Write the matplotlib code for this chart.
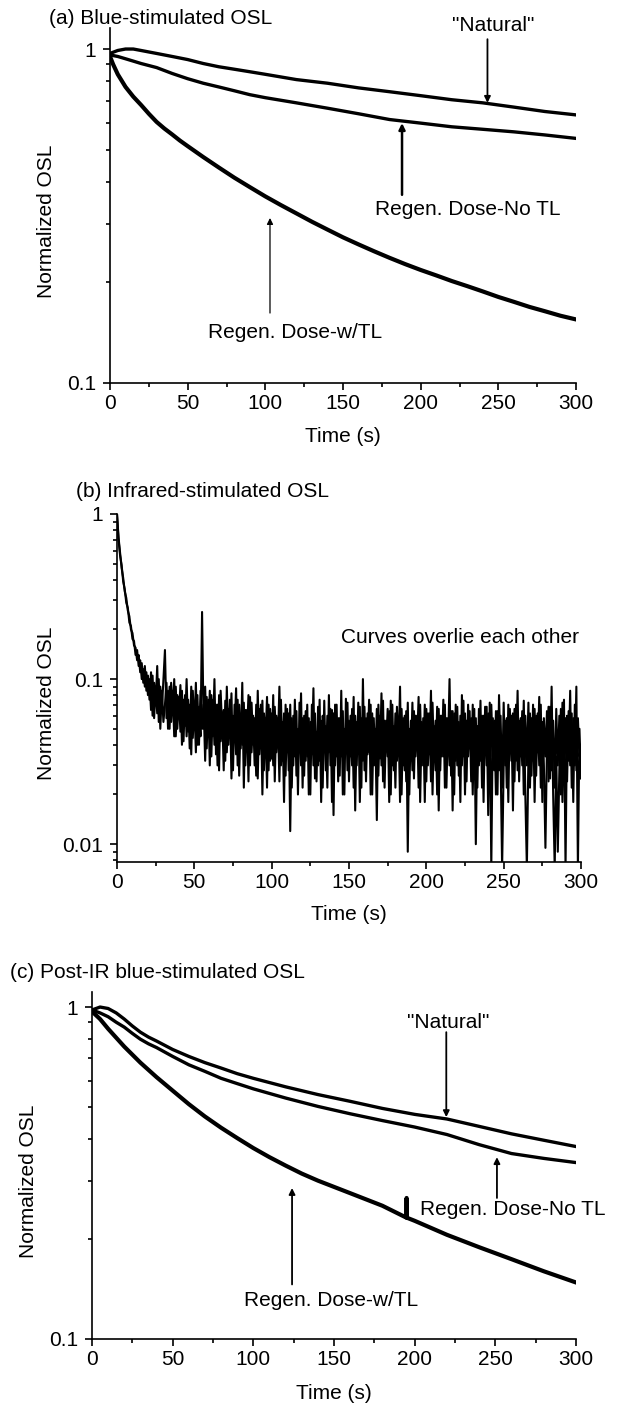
import numpy as np
import matplotlib
matplotlib.use('Agg')
import matplotlib.pyplot as plt
from matplotlib.ticker import MultipleLocator, LogLocator, NullFormatter

plt.rcParams['font.family'] = ['Liberation Sans', 'DejaVu Sans']
plt.rcParams['font.size'] = 15

# ---- data ----
# (a) blue-stimulated OSL
t_a = [0, 5, 10, 15, 20, 30, 40, 50, 60, 70, 80, 90, 100, 120, 140, 160, 180, 200, 220, 240, 260, 280, 300]
natural_a = [0.97, 0.99, 1.0, 1.0, 0.99, 0.97, 0.95, 0.93, 0.905, 0.885, 0.87, 0.855, 0.84, 0.81, 0.79,
             0.765, 0.745, 0.725, 0.705, 0.69, 0.67, 0.65, 0.635]
notl_a = [0.96, 0.95, 0.935, 0.92, 0.905, 0.88, 0.845, 0.815, 0.79, 0.77, 0.75, 0.73, 0.715, 0.69, 0.665,
          0.64, 0.615, 0.6, 0.585, 0.575, 0.565, 0.553, 0.54]
t_wtl_a = [0, 2, 5, 10, 15, 20, 25, 30, 35, 40, 45, 50, 60, 70, 80, 90, 100, 110, 120, 130, 140, 150, 160,
           170, 180, 190, 200, 210, 220, 230, 240, 250, 260, 270, 280, 290, 300]
wtl_a = [0.95, 0.9, 0.84, 0.77, 0.72, 0.68, 0.64, 0.605, 0.578, 0.555, 0.532, 0.512, 0.475, 0.442, 0.412,
         0.386, 0.362, 0.341, 0.322, 0.304, 0.288, 0.273, 0.26, 0.248, 0.237, 0.227, 0.218, 0.21, 0.202,
         0.195, 0.188, 0.181, 0.175, 0.169, 0.164, 0.159, 0.155]

# (b) infrared-stimulated OSL, 1 s channels; two curves that overlie each other
ir_b = [1.0, 0.72, 0.58, 0.47, 0.41, 0.34, 0.31, 0.26, 0.24, 0.2, 0.19, 0.16, 0.155, 0.13, 0.14, 0.11,
        0.125, 0.095, 0.12, 0.085, 0.105,
        0.075, 0.11, 0.06, 0.095, 0.07, 0.12, 0.055, 0.09, 0.065, 0.1,
        0.15, 0.058, 0.085, 0.05, 0.095, 0.062, 0.1, 0.045, 0.08, 0.06,
        0.092, 0.04, 0.075, 0.052, 0.1, 0.048, 0.07, 0.035, 0.085, 0.05,
        0.095, 0.04, 0.068, 0.045, 0.255, 0.05, 0.09, 0.038, 0.075, 0.03,
        0.08, 0.045, 0.1, 0.035, 0.07, 0.028, 0.085, 0.05, 0.065, 0.032,
        0.09, 0.04, 0.075, 0.025, 0.06, 0.048, 0.088, 0.03, 0.07, 0.038,
        0.095, 0.022, 0.065, 0.045, 0.08, 0.03, 0.072, 0.04, 0.058, 0.026,
        0.085, 0.035, 0.07, 0.02, 0.062, 0.042, 0.078, 0.028, 0.066, 0.033,
        0.08, 0.024, 0.06, 0.04, 0.09, 0.03, 0.055, 0.018, 0.07, 0.036,
        0.062, 0.012, 0.058, 0.03, 0.075, 0.026, 0.05, 0.038, 0.082, 0.022,
        0.06, 0.032, 0.07, 0.02, 0.055, 0.035, 0.088, 0.025, 0.048, 0.03,
        0.075, 0.018, 0.06, 0.04, 0.052, 0.022, 0.08, 0.03, 0.065, 0.015,
        0.07, 0.034, 0.058, 0.026, 0.085, 0.02, 0.05, 0.038, 0.072, 0.024,
        0.06, 0.03, 0.078, 0.016, 0.055, 0.036, 0.068, 0.022, 0.1, 0.028,
        0.058, 0.035, 0.075, 0.02, 0.062, 0.03, 0.05, 0.014, 0.07, 0.033,
        0.082, 0.024, 0.056, 0.038, 0.066, 0.018, 0.074, 0.03, 0.052, 0.022,
        0.068, 0.036, 0.09, 0.02, 0.058, 0.028, 0.064, 0.009, 0.05, 0.032,
        0.072, 0.025, 0.06, 0.04, 0.078, 0.018, 0.055, 0.03, 0.07, 0.024,
        0.062, 0.035, 0.085, 0.02, 0.052, 0.028, 0.068, 0.016, 0.06, 0.034,
        0.075, 0.022, 0.058, 0.038, 0.1, 0.026, 0.064, 0.02, 0.07, 0.03,
        0.055, 0.018, 0.08, 0.034, 0.062, 0.024, 0.07, 0.038, 0.058, 0.02,
        0.066, 0.01, 0.052, 0.03, 0.074, 0.022, 0.06, 0.036, 0.068, 0.015,
        0.072, 0.0072, 0.058, 0.028, 0.064, 0.02, 0.08, 0.034, 0.0072, 0.03,
        0.056, 0.022, 0.07, 0.036, 0.06, 0.016, 0.066, 0.032, 0.085, 0.024,
        0.058, 0.03, 0.074, 0.02, 0.0072, 0.034, 0.062, 0.026, 0.07, 0.018,
        0.06, 0.036, 0.078, 0.022, 0.055, 0.03, 0.0095, 0.04, 0.068, 0.025,
        0.09, 0.02, 0.0072, 0.034, 0.009, 0.028, 0.066, 0.018, 0.075, 0.0072,
        0.06, 0.032, 0.085, 0.022, 0.058, 0.03, 0.09, 0.0072, 0.05, 0.025]
ir_b2 = [1.0, 0.7, 0.56, 0.49, 0.39, 0.35, 0.29, 0.27, 0.22, 0.21, 0.175, 0.17, 0.14, 0.15, 0.12, 0.13,
         0.1, 0.115, 0.09, 0.11, 0.08,
         0.1, 0.065, 0.105, 0.058, 0.09, 0.062, 0.1, 0.05, 0.085, 0.055,
         0.07, 0.095, 0.05, 0.09, 0.055, 0.085, 0.045, 0.09, 0.05, 0.078,
         0.048, 0.085, 0.042, 0.08, 0.045, 0.075, 0.038, 0.09, 0.044, 0.072,
         0.036, 0.08, 0.04, 0.085, 0.05, 0.07, 0.032, 0.078, 0.045, 0.085,
         0.034, 0.075, 0.04, 0.07, 0.03, 0.08, 0.042, 0.062, 0.028, 0.074,
         0.036, 0.066, 0.045, 0.082, 0.028, 0.07, 0.035, 0.075, 0.026, 0.06,
         0.04, 0.072, 0.03, 0.065, 0.024, 0.078, 0.036, 0.06, 0.03, 0.07,
         0.025, 0.066, 0.038, 0.074, 0.028, 0.058, 0.022, 0.07, 0.032, 0.062,
         0.03, 0.068, 0.036, 0.058, 0.024, 0.075, 0.032, 0.062, 0.026, 0.066,
         0.028, 0.07, 0.022, 0.06, 0.034, 0.064, 0.02, 0.072, 0.03, 0.058,
         0.026, 0.064, 0.034, 0.058, 0.02, 0.07, 0.03, 0.062, 0.024, 0.068,
         0.032, 0.056, 0.022, 0.074, 0.028, 0.06, 0.036, 0.066, 0.018, 0.062,
         0.03, 0.07, 0.024, 0.058, 0.034, 0.064, 0.02, 0.076, 0.028, 0.056,
         0.034, 0.066, 0.022, 0.06, 0.03, 0.072, 0.018, 0.058, 0.032, 0.068,
         0.024, 0.062, 0.036, 0.07, 0.02, 0.058, 0.03, 0.066, 0.026, 0.06,
         0.03, 0.074, 0.022, 0.056, 0.034, 0.064, 0.02, 0.07, 0.028, 0.062,
         0.032, 0.058, 0.018, 0.066, 0.03, 0.06, 0.024, 0.072, 0.02, 0.056,
         0.028, 0.064, 0.034, 0.06, 0.022, 0.07, 0.03, 0.058, 0.018, 0.066,
         0.03, 0.062, 0.024, 0.072, 0.032, 0.056, 0.02, 0.066, 0.028, 0.06,
         0.034, 0.07, 0.022, 0.058, 0.03, 0.064, 0.016, 0.062, 0.032, 0.068,
         0.026, 0.06, 0.03, 0.074, 0.02, 0.056, 0.034, 0.064, 0.024, 0.07,
         0.028, 0.058, 0.022, 0.066, 0.032, 0.06, 0.018, 0.068, 0.03, 0.062,
         0.024, 0.07, 0.034, 0.056, 0.02, 0.064, 0.028, 0.06, 0.022, 0.072,
         0.03, 0.058, 0.018, 0.066, 0.032, 0.062, 0.024, 0.07, 0.028, 0.056,
         0.034, 0.064, 0.02, 0.06, 0.03, 0.072, 0.022, 0.058, 0.032, 0.066,
         0.026, 0.062, 0.03, 0.07, 0.018, 0.058, 0.034, 0.064, 0.024, 0.068,
         0.028, 0.056, 0.022, 0.066, 0.03, 0.06, 0.02, 0.072, 0.032, 0.058,
         0.024, 0.064, 0.03, 0.062, 0.018, 0.07, 0.028, 0.058, 0.034, 0.04]
t_b = np.arange(len(ir_b))

# (c) post-IR blue-stimulated OSL
t_c = [0, 5, 10, 15, 20, 25, 30, 35, 40, 50, 60, 70, 80, 90, 100, 120, 140, 160, 180, 200, 220, 240, 260,
       280, 300]
natural_c = [0.98, 1.0, 0.99, 0.96, 0.92, 0.877, 0.84, 0.812, 0.79, 0.745, 0.71, 0.68, 0.655, 0.63, 0.61,
             0.575, 0.545, 0.52, 0.495, 0.475, 0.46, 0.437, 0.415, 0.397, 0.38]
notl_c = [0.98, 0.96, 0.935, 0.9, 0.87, 0.833, 0.8, 0.775, 0.755, 0.71, 0.67, 0.64, 0.61, 0.588, 0.567,
          0.532, 0.502, 0.477, 0.455, 0.435, 0.413, 0.385, 0.362, 0.35, 0.34]
t_wtl_c = [0, 5, 10, 20, 30, 40, 50, 60, 70, 80, 90, 100, 110, 120, 130, 140, 160, 180, 194.9, 195, 195.1,
           200, 220, 240, 260, 280, 300]
wtl_c = [0.97, 0.92, 0.86, 0.76, 0.68, 0.615, 0.56, 0.51, 0.468, 0.433, 0.403, 0.376, 0.353, 0.333, 0.315,
         0.3, 0.275, 0.252, 0.232, 0.266, 0.232, 0.227, 0.206, 0.189, 0.174, 0.16, 0.148]

# ---- figure ----
W, H = 617, 1407
fig = plt.figure(figsize=(W / 100, H / 100), dpi=100)


def box(left, top, right, bottom):
    return [left / W, 1 - bottom / H, (right - left) / W, (bottom - top) / H]


def style(ax, ylim, yticks, ylab_x, xlab_y):
    ax.set_yscale('log')
    ax.set_xlim(0, 300)
    ax.set_ylim(*ylim)
    ax.set_yticks(yticks)
    ax.set_yticklabels([('%g' % v) for v in yticks])
    ax.yaxis.set_minor_locator(LogLocator(base=10, subs=np.arange(2, 10)))
    ax.yaxis.set_minor_formatter(NullFormatter())
    ax.xaxis.set_major_locator(MultipleLocator(50))
    ax.xaxis.set_minor_locator(MultipleLocator(25))
    for s in ['top', 'right']:
        ax.spines[s].set_visible(False)
    for s in ['left', 'bottom']:
        ax.spines[s].set_linewidth(1.2)
    ax.tick_params(which='major', direction='out', length=5, width=1.2, labelsize=15)
    ax.tick_params(which='minor', direction='out', length=2.6, width=1.2)
    ax.tick_params(axis='x', which='major', pad=3)
    ax.tick_params(axis='y', which='major', pad=5)
    ax.set_xlabel('Time (s)', va='center')
    ax.xaxis.set_label_coords(0.5, xlab_y)
    ax.set_ylabel('Normalized OSL', va='center', ha='center')
    ax.yaxis.set_label_coords(ylab_x, 0.455)


def arrow(ax, t, tip, tail, lw=1.3):
    ax.annotate('', xy=(t, tip), xytext=(t, tail),
                arrowprops=dict(arrowstyle='-|>', lw=lw, color='black', mutation_scale=9,
                                shrinkA=0, shrinkB=0))


# (a)
ax_a = fig.add_axes(box(110, 28, 576, 383))
ax_a.plot(t_a, natural_a, color='black', lw=2.4)
ax_a.plot(t_a, notl_a, color='black', lw=2.4)
ax_a.plot(t_wtl_a, wtl_a, color='black', lw=3.0)
style(ax_a, (0.1, 1.156), [0.1, 1], -0.137, -0.152)
ax_a.text(247, 1.18, '"Natural"', ha='center', va='center')
arrow(ax_a, 243, 0.69, 1.07)
arrow(ax_a, 188, 0.60, 0.366, lw=1.8)
ax_a.text(230, 0.33, 'Regen. Dose-No TL', ha='center', va='center')
arrow(ax_a, 103, 0.312, 0.162, lw=0.9)
ax_a.text(119, 0.142, 'Regen. Dose-w/TL', ha='center', va='center')
fig.text(49 / W, 1 - 19 / H, '(a) Blue-stimulated OSL', ha='left', va='center')

# (b)
ax_b = fig.add_axes(box(117, 514, 581, 862))
ax_b.plot(t_b, ir_b, color='black', lw=1.5)
ax_b.plot(t_b, ir_b2, color='black', lw=1.5)
style(ax_b, (0.0078, 1), [0.01, 0.1, 1], -0.153, -0.152)
ax_b.text(222, 0.178, 'Curves overlie each other', ha='center', va='center')
fig.text(76 / W, 1 - 492 / H, '(b) Infrared-stimulated OSL', ha='left', va='center')

# (c)
ax_c = fig.add_axes(box(92, 992, 576, 1339))
ax_c.plot(t_c, natural_c, color='black', lw=2.4)
ax_c.plot(t_c, notl_c, color='black', lw=2.4)
ax_c.plot(t_wtl_c, wtl_c, color='black', lw=3.0)
style(ax_c, (0.1, 1.11), [0.1, 1], -0.132, -0.156)
ax_c.text(221, 0.90, '"Natural"', ha='center', va='center')
arrow(ax_c, 219.6, 0.466, 0.84)
arrow(ax_c, 251, 0.353, 0.266)
ax_c.text(203, 0.245, 'Regen. Dose-No TL', ha='left', va='center')
arrow(ax_c, 124, 0.285, 0.146)
ax_c.text(148, 0.131, 'Regen. Dose-w/TL', ha='center', va='center')
fig.text(10 / W, 1 - 973 / H, '(c) Post-IR blue-stimulated OSL', ha='left', va='center')

fig.savefig('out.png', dpi=100)
